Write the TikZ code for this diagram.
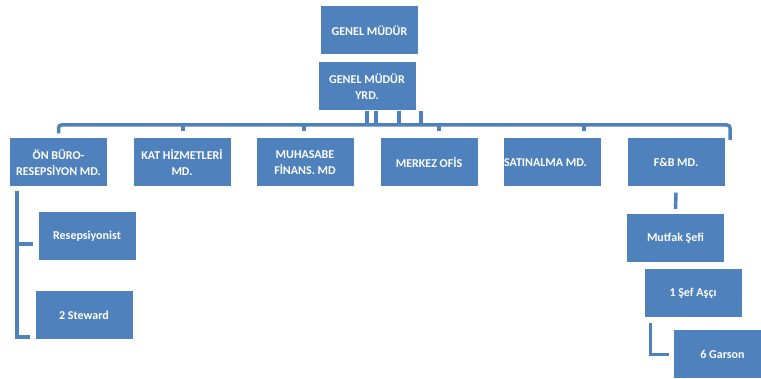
\documentclass[tikz,border=0pt]{standalone}
\usepackage{fontspec}
\setmainfont{Carlito}
\definecolor{ofisblue}{HTML}{4F81BD}
\tikzstyle{kutu}=[fill=ofisblue,text=white,font=\bfseries\fontsize{12}{16}\selectfont,align=center,inner sep=0pt,minimum width=97pt,minimum height=48pt]
\tikzstyle{hat}=[draw=ofisblue,line width=3.5pt]
\newcommand{\birim}[5]{\node[kutu,#5] (#1) at (#2,#3) {#4};}
\begin{document}
\begin{tikzpicture}[x=1pt,y=-1pt]
    \useasboundingbox (0,0) rectangle (761,379);

    \birim{gm}{369.5}{30.5}{GENEL MÜDÜR}{}
    \birim{gmy}{367}{86.5}{GENEL MÜDÜR\\YRD.}{}
    \birim{onburo}{58.5}{162.5}{ÖN BÜRO-\\RESEPSİYON MD.}{}
    \birim{kat}{182}{162.5}{KAT HİZMETLERİ\\MD.}{}
    \birim{muh}{305}{162.5}{MUHASABE\\FİNANS. MD}{}
    \birim{merkez}{429}{162.5}{MERKEZ OFİS}{}
    \birim{satin}{552.5}{162.5}{\hspace*{-14pt}SATINALMA MD.}{}
    \birim{fb}{676}{162.5}{F\&B MD.}{}
    \birim{resep}{87}{236.5}{Resepsiyonist}{}
    \birim{stew}{84}{315}{2 Steward}{}
    \birim{mutfak}{675.5}{238.5}{Mutfak Şefi}{}
    \birim{sef}{693}{293}{1 Şef Aşçı}{}
    \birim{garson}{722.5}{354.5}{6 Garson}{}

    \coordinate (busL) at (58.5,125);
    \coordinate (busR) at (730,125);

    \draw[hat,rounded corners=3pt] (onburo.north) ++(0,-5) |- (busR) -- ++(0,15);
    \foreach \dx in {0,9,32,54}
        \draw[hat] ([xshift=\dx pt]gmy.south) -- ++(0,14);
    \draw[hat] ([xshift=1pt]kat.north) ++(0,-7) -- ++(0,-7);
    \draw[hat] ([xshift=-1pt]muh.north) ++(0,-7) -- ++(0,-7);
    \draw[hat] ([xshift=10pt]merkez.north) ++(0,-7) -- ++(0,-7);
    \draw[hat] ([xshift=31.5pt]satin.north) ++(0,-7) -- ++(0,-7);

    \draw[hat] ([xshift=7pt,yshift=-4pt]onburo.south west) |- ([xshift=-5pt,yshift=-7.5pt]resep.west);
    \draw[hat] ([xshift=7pt,yshift=-4pt]onburo.south west) |- ([xshift=-5pt,yshift=-22pt]stew.west);

    \draw[hat] (fb.south) ++(0,6) -- (mutfak.north |- 0,209);
    \draw[hat] ([xshift=6pt,yshift=-6pt]sef.south west) |- ([xshift=-5pt]garson.west);
\end{tikzpicture}
\end{document}
